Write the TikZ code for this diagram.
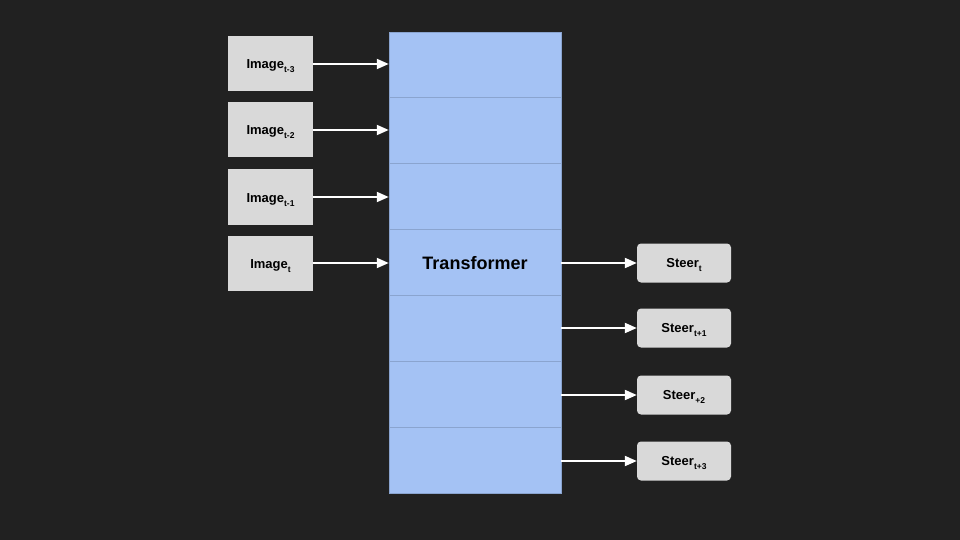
\documentclass[tikz,border=0pt]{standalone}
\usepackage{fontspec}
\setmainfont{Liberation Sans}
\usetikzlibrary{arrows.meta}
\definecolor{bg}{HTML}{212121}
\definecolor{boxfill}{HTML}{D9D9D9}
\definecolor{tfill}{HTML}{A4C2F4}
\definecolor{tline}{HTML}{8AA4CF}
\newcommand{\lowsub}[1]{\smash{\raisebox{-4pt}{\fontsize{8.5}{9}\selectfont #1}}}
\begin{document}
\begin{tikzpicture}[x=1pt,y=-1pt,
  imgbox/.style={rectangle, fill=boxfill, minimum width=85pt, minimum height=55pt, inner sep=0pt, text height=10pt, text depth=0pt, font=\bfseries\fontsize{13}{15}\selectfont},
  steerbox/.style={rectangle, rounded corners=4pt, fill=boxfill, minimum width=94pt, minimum height=39pt, inner sep=0pt, text height=9.5pt, text depth=0pt, font=\bfseries\fontsize{13}{15}\selectfont},
  flow/.style={draw=white, line width=2pt, -{Triangle[length=12pt,width=10pt]}}
]
\fill[bg] (0,0) rectangle (960,540);
\useasboundingbox (0,0) rectangle (960,540);

\node[rectangle, fill=tfill, draw=tline, line width=0.5pt, minimum width=172pt, minimum height=461pt, inner sep=0pt] (T) at (475,262.5) {};
\foreach \yy in {97.5,163.5,229.5,295.5,361.5,427.5} {
  \draw[tline, line width=0.5pt] (389,\yy) -- (561,\yy);
}
\node[font=\bfseries\fontsize{18}{20}\selectfont] (tlabel) at (475,263) {Transformer};

\node[imgbox] (i3) at (270.5,64) {Image\lowsub{t-3}};
\node[imgbox] (i2) at (270.5,130) {Image\lowsub{t-2}};
\node[imgbox] (i1) at (270.5,197) {Image\lowsub{t-1}};
\node[imgbox] (i0) at (270.5,263) {Image\lowsub{t}};

\node[steerbox] (s0) at (684,263) {Steer\lowsub{t}};
\node[steerbox] (s1) at (684,328) {Steer\lowsub{t+1}};
\node[steerbox] (s2) at (684,395) {Steer\lowsub{+2}};
\node[steerbox] (s3) at (684,461) {Steer\lowsub{t+3}};

\foreach \n in {i3,i2,i1,i0} {
  \draw[flow] (\n.east) -- (\n.east -| T.west);
}
\foreach \n in {s0,s1,s2,s3} {
  \draw[flow] (\n.west -| T.east) -- (\n.west);
}
\end{tikzpicture}
\end{document}
